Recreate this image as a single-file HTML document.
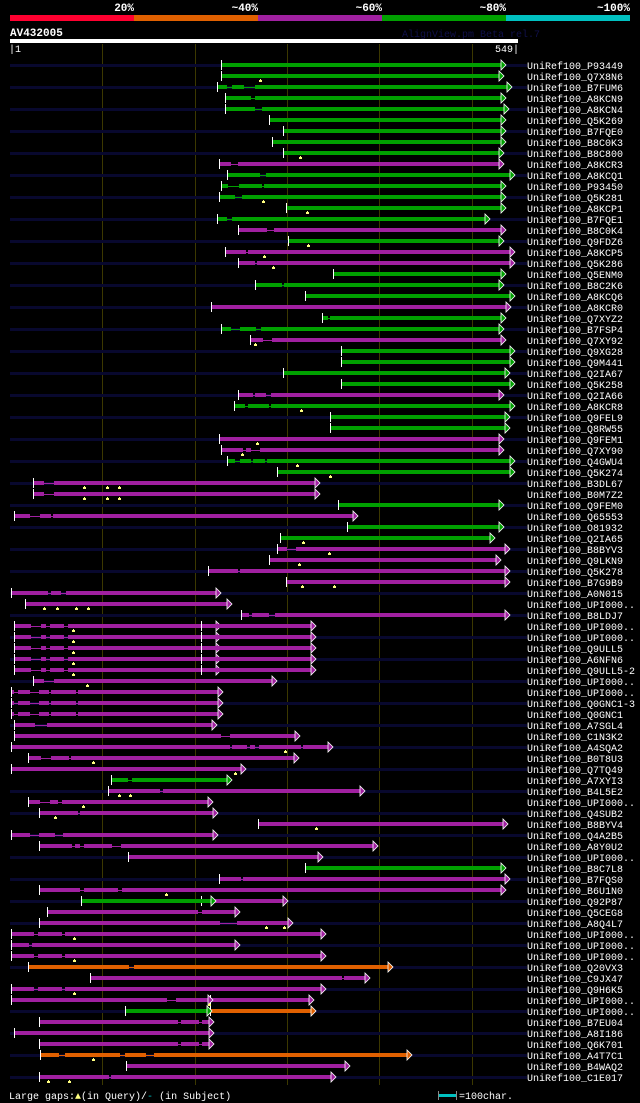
<!DOCTYPE html>
<html><head><meta charset="utf-8">
<style>
html,body{margin:0;padding:0;background:#000;}
body{width:640px;height:1103px;overflow:hidden;font-family:"Liberation Mono",monospace;}
svg{display:block}
text{font-family:"Liberation Mono",monospace;}
</style></head>
<body>
<svg id="chart" width="640" height="1103" xmlns="http://www.w3.org/2000/svg" shape-rendering="crispEdges">
<g id="header">
<rect x="10" y="15" width="124" height="6" fill="#ff0030"/>
<rect x="134" y="15" width="124" height="6" fill="#e06000"/>
<rect x="258" y="15" width="124" height="6" fill="#a020a0"/>
<rect x="382" y="15" width="124" height="6" fill="#00a000"/>
<rect x="506" y="15" width="124" height="6" fill="#00c0c0"/>
<text x="134" y="11" fill="#fff" font-size="11" font-weight="bold" text-anchor="end">20%</text>
<text x="258" y="11" fill="#fff" font-size="11" font-weight="bold" text-anchor="end">~40%</text>
<text x="382" y="11" fill="#fff" font-size="11" font-weight="bold" text-anchor="end">~60%</text>
<text x="506" y="11" fill="#fff" font-size="11" font-weight="bold" text-anchor="end">~80%</text>
<text x="630" y="11" fill="#fff" font-size="11" font-weight="bold" text-anchor="end">~100%</text>
<text x="10" y="36" fill="#fff" font-size="11" font-weight="bold">AV432005</text>
<text x="402" y="37" fill="#10104a" font-size="10">AlignView.pm Beta rel.7</text>
<rect x="10" y="39" width="508" height="4" fill="#fff"/>
<text x="9" y="52" fill="#fff" font-size="10">|1</text>
<text x="519" y="52" fill="#fff" font-size="10" text-anchor="end">549|</text>
</g>
<g id="grid"></g>
<g id="rows"></g>
<g id="footer">
<text x="9" y="1099" fill="#fff" font-size="10">Large gaps:<tspan fill="#ffff80">▲</tspan>(in Query)/<tspan fill="#00c0c0">-</tspan> (in Subject)</text>
<rect x="439" y="1094" width="17" height="3" fill="#00c0c0"/>
<rect x="438" y="1091" width="1" height="9" fill="#888"/>
<rect x="456" y="1091" width="1" height="9" fill="#888"/>
<text x="459" y="1099" fill="#fff" font-size="10">=100char.</text>
</g>
</svg>
<script>
const labels=["UniRef100_P93449","UniRef100_Q7X8N6","UniRef100_B7FUM6","UniRef100_A8KCN9","UniRef100_A8KCN4","UniRef100_Q5K269","UniRef100_B7FQE0","UniRef100_B8C0K3","UniRef100_B8C800","UniRef100_A8KCR3","UniRef100_A8KCQ1","UniRef100_P93450","UniRef100_Q5K281","UniRef100_A8KCP1","UniRef100_B7FQE1","UniRef100_B8C0K4","UniRef100_Q9FDZ6","UniRef100_A8KCP5","UniRef100_Q5K286","UniRef100_Q5ENM0","UniRef100_B8C2K6","UniRef100_A8KCQ6","UniRef100_A8KCR0","UniRef100_Q7XYZ2","UniRef100_B7FSP4","UniRef100_Q7XY92","UniRef100_Q9XG28","UniRef100_Q9M441","UniRef100_Q2IA67","UniRef100_Q5K258","UniRef100_Q2IA66","UniRef100_A8KCR8","UniRef100_Q9FEL9","UniRef100_Q8RW55","UniRef100_Q9FEM1","UniRef100_Q7XY90","UniRef100_Q4GWU4","UniRef100_Q5K274","UniRef100_B3DL67","UniRef100_B0M7Z2","UniRef100_Q9FEM0","UniRef100_Q65553","UniRef100_O81932","UniRef100_Q2IA65","UniRef100_B8BYV3","UniRef100_Q9LKN9","UniRef100_Q5K278","UniRef100_B7G9B9","UniRef100_A0N015","UniRef100_UPI000..","UniRef100_B8LDJ7","UniRef100_UPI000..","UniRef100_UPI000..","UniRef100_Q9ULL5","UniRef100_A6NFN6","UniRef100_Q9ULL5-2","UniRef100_UPI000..","UniRef100_UPI000..","UniRef100_Q0GNC1-3","UniRef100_Q0GNC1","UniRef100_A7SGL4","UniRef100_C1N3K2","UniRef100_A4SQA2","UniRef100_B0T8U3","UniRef100_Q7TQ49","UniRef100_A7XYI3","UniRef100_B4L5E2","UniRef100_UPI000..","UniRef100_Q4SUB2","UniRef100_B8BYV4","UniRef100_Q4A2B5","UniRef100_A8Y0U2","UniRef100_UPI000..","UniRef100_B8C7L8","UniRef100_B7FQS0","UniRef100_B6U1N0","UniRef100_Q92P87","UniRef100_Q5CEG8","UniRef100_A8Q4L7","UniRef100_UPI000..","UniRef100_UPI000..","UniRef100_UPI000..","UniRef100_Q20VX3","UniRef100_C9JX47","UniRef100_Q9H6K5","UniRef100_UPI000..","UniRef100_UPI000..","UniRef100_B7EU04","UniRef100_A8I186","UniRef100_Q6K701","UniRef100_A4T7C1","UniRef100_B4WAQ2","UniRef100_C1E017"];
const gridTicks=[101,201,301,401,501];
// hits: [row, color, flattened aligned segments (query residues)]
const hits=[
[0,"g",[231,533]],
[1,"g",[231,256,253,531]],
[2,"g",[226,236,241,254,266,539]],
[3,"g",[235,262,266,533]],
[4,"g",[235,266,274,536]],
[5,"g",[283,533]],
[6,"g",[298,533]],
[7,"g",[286,533]],
[8,"g",[298,531]],
[9,"p",[228,240,248,531]],
[10,"g",[237,272,278,543]],
[11,"g",[231,237,249,274,276,533]],
[12,"g",[228,245,252,533]],
[13,"g",[301,533]],
[14,"g",[226,236,241,516]],
[15,"p",[249,279,287,533]],
[16,"g",[303,531]],
[17,"p",[235,257,259,543]],
[18,"p",[249,266,269,543]],
[19,"g",[352,533]],
[20,"g",[268,296,298,531]],
[21,"g",[322,543]],
[22,"p",[220,538]],
[23,"g",[340,346,348,533]],
[24,"g",[231,240,250,268,273,531]],
[25,"p",[262,275,285,533]],
[26,"g",[361,543]],
[27,"g",[361,543]],
[28,"g",[298,537]],
[29,"g",[361,543]],
[30,"p",[249,264,266,278,284,531]],
[31,"g",[245,256,259,282,284,543]],
[32,"g",[349,537]],
[33,"g",[349,537]],
[34,"p",[228,531]],
[35,"p",[231,253,257,262,272,531]],
[36,"g",[237,245,250,262,264,277,279,543]],
[37,"g",[291,543]],
[38,"p",[27,38,49,331]],
[39,"p",[27,38,49,331]],
[40,"g",[357,531]],
[41,"p",[6,23,33,45,48,373]],
[42,"g",[367,531]],
[43,"g",[295,521]],
[44,"p",[291,301,311,537]],
[45,"p",[283,528]],
[46,"p",[217,248,250,537]],
[47,"p",[301,537]],
[48,"p",[3,42,45,56,62,224]],
[49,"p",[18,236]],
[50,"p",[252,260,263,282,288,537]],
[51,"p",[6,24,35,40,44,60,64,224]],[51,"p",[209,327]],
[52,"p",[6,24,35,40,44,60,64,224]],[52,"p",[209,327]],
[53,"p",[6,24,35,40,44,60,64,224]],[53,"p",[209,327]],
[54,"p",[6,24,35,40,44,60,64,224]],[54,"p",[209,327]],
[55,"p",[6,24,35,40,44,60,64,224]],[55,"p",[209,327]],
[56,"p",[27,38,49,285]],
[57,"p",[3,5,10,23,32,43,45,73,75,226]],
[58,"p",[3,5,10,23,32,43,45,73,75,226]],
[59,"p",[3,5,10,23,32,43,45,73,75,226]],
[60,"p",[6,28,41,220]],
[61,"p",[6,230,239,310]],
[62,"p",[3,239,241,258,261,266,271,316,318,346]],
[63,"p",[22,35,45,65,67,309]],
[64,"p",[3,251]],
[65,"g",[112,129,133,236]],
[66,"p",[108,164,167,380]],
[67,"p",[22,33,44,53,57,216]],
[68,"p",[33,75,77,221]],
[69,"p",[271,535]],
[70,"p",[3,23,32,50,58,221]],
[71,"p",[33,68,71,77,81,112,121,394]],
[72,"p",[130,335]],
[73,"g",[322,533]],
[74,"p",[228,251,253,537]],
[75,"p",[33,77,81,118,122,533]],
[76,"p",[209,297]],[76,"g",[79,219]],
[77,"p",[42,205,209,245]],
[78,"p",[33,228,247,302]],
[79,"p",[3,27,31,57,61,338]],
[80,"p",[3,22,25,245]],
[81,"p",[3,27,31,57,61,338]],
[82,"o",[22,130,135,411]],
[83,"p",[89,361,363,386]],
[84,"p",[3,27,31,57,61,338]],
[85,"p",[219,325]],[85,"p",[3,171,181,216]],
[86,"o",[219,327]],[86,"g",[127,214]],
[87,"p",[33,183,186,206,209,217]],
[88,"p",[6,217]],
[89,"p",[33,183,186,206,209,217]],
[90,"o",[35,54,61,120,126,148,157,431]],
[91,"p",[128,364]],
[92,"p",[33,108,110,349]]
];
// query gaps: [row, residue]
const queryGaps=[[1,272],[8,315],[12,275],[13,323],[16,324],[17,276],[18,286],[25,266],[31,316],[34,269],[35,252],[36,312],[37,348],
[38,81],[38,106],[38,119],[39,81],[39,106],[39,119],[43,318],[44,347],[45,314],[47,317],[47,352],[49,38],[49,52],[49,73],[49,86],
[51,69],[52,69],[53,69],[54,69],[55,69],[56,84],[62,299],[63,91],[64,245],[66,119],[66,131],[67,80],[68,50],[69,333],[75,170],
[78,278],[78,298],[79,70],[81,70],[84,70],[85,217],[90,91],[92,42],[92,65]];

const colors={g:"#00a000",p:"#a020a0",o:"#e06000"};
const NS="http://www.w3.org/2000/svg";
function xScale(p){return 10+(p-1)*0.923;}
function yRow(i){return 65+i*11;}
function mk(tag,attrs,parent){const e=document.createElementNS(NS,tag);for(const k in attrs)e.setAttribute(k,attrs[k]);parent.appendChild(e);return e;}
const grid=document.getElementById('grid');
const rows=document.getElementById('rows');
gridTicks.forEach(t=>{
  const l=mk('rect',{x:Math.round(xScale(t)),y:44,width:1,height:1041,fill:'#3c3800'},grid);
  
  
});
labels.forEach((lab,i)=>{
  const y=yRow(i);
  if(i%2===0){
    const bg=mk('rect',{x:10,y:y-1,width:517,height:3,fill:'#08082e'},rows);
    
    
  }
  const t=mk('text',{x:527,y:y+4,fill:'#fff','font-size':10},rows);
  t.textContent=lab;
  
  
});
hits.forEach(h=>{
  const [r,c,segs]=h;
  const y=yRow(r);const col=colors[c];
  const g=mk('g',{},rows);
  
  
  const x0=Math.round(xScale(segs[0])),x1=Math.round(xScale(segs[segs.length-1]));
  mk('rect',{x:x0,y:y,width:x1-x0,height:1,fill:col},g);
  for(let k=0;k<segs.length;k+=2){
    const a=Math.round(xScale(segs[k])),b=Math.round(xScale(segs[k+1]));
    const s=mk('rect',{x:a,y:y-2,width:Math.max(1,b-a),height:4,fill:col},g);
    
    
  }
  const tick=mk('rect',{x:x0-1,y:y-5,width:1,height:10,fill:'#fff'},g);
  
  
  const ar=mk('polygon',{points:`${x1},${y-5} ${x1+5},${y} ${x1},${y+5}`,fill:col,stroke:'#fff','stroke-width':0.8,'shape-rendering':'auto'},g);
  
  
});
queryGaps.forEach(q=>{
  const [r,p]=q;const x=Math.round(xScale(p));const y=yRow(r);
  const m=mk('rect',{x:x-1,y:y+4,width:3,height:2,fill:'#ffff80'},rows);
  
  
  const m2=mk('rect',{x:x,y:y+3,width:1,height:1,fill:'#ffff80'},rows);
  
  
});
</script>
</body></html>
